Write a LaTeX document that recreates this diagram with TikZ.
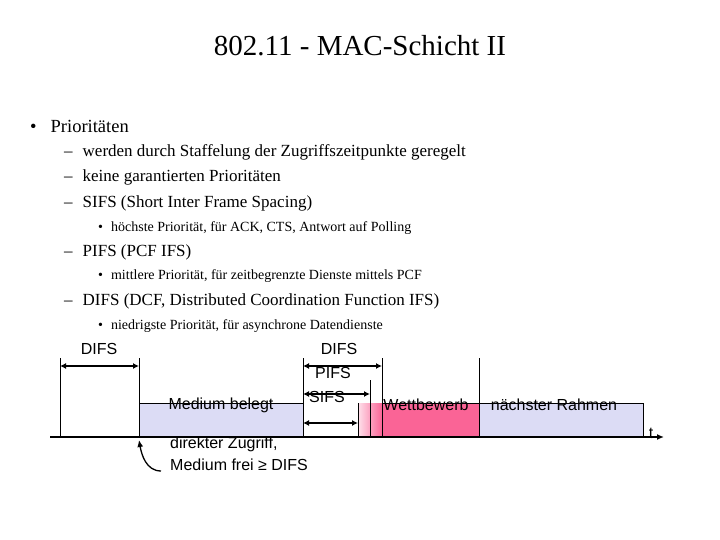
\documentclass[tikz,border=0pt]{standalone}
\usepackage{fontspec}
\setmainfont{Liberation Serif}
\newfontfamily\arial{Liberation Sans}
\usetikzlibrary{arrows.meta}
\definecolor{belegt}{RGB}{220,220,245}
\definecolor{wett}{RGB}{250,100,150}
\begin{document}
\begin{tikzpicture}[x=1pt,y=-1pt]
\tikzstyle{lvl1}=[anchor=west,inner sep=0pt,font=\fontsize{18.5}{22}\selectfont]
\tikzstyle{lvl2}=[anchor=west,inner sep=0pt,font=\fontsize{17}{20}\selectfont]
\tikzstyle{lvl3}=[anchor=west,inner sep=0pt,font=\fontsize{14}{17}\selectfont]
\tikzstyle{lbl}=[inner sep=0pt,font=\arial\fontsize{16}{20}\selectfont]
\tikzstyle{span}=[line width=1.6pt,{Latex[length=6pt,width=6pt]}-{Latex[length=6pt,width=6pt]}]
\useasboundingbox (0,0) rectangle (720,540);
\node[font=\fontsize{29}{34}\selectfont] (title) at (360,46) {802.11 - MAC-Schicht II};
% Aufzaehlung
\node[lvl1] (b1) at (30,126) {\textbullet\hspace{14pt}Prioritäten};
\foreach \name/\ypos/\txt in {
	s1/152/{werden durch Staffelung der Zugriffszeitpunkte geregelt},
	s2/177/{keine garantierten Prioritäten},
	s3/203/{SIFS (Short Inter Frame Spacing)},
	s4/252/{PIFS (PCF IFS)},
	s5/301/{DIFS (DCF, Distributed Coordination Function IFS)}}
	\node[lvl2] (\name) at (64,\ypos) {--\hspace{10pt}\txt};
\foreach \name/\ypos/\txt in {
	t1/228/{höchste Priorität, für ACK, CTS, Antwort auf Polling},
	t2/276/{mittlere Priorität, für zeitbegrenzte Dienste mittels PCF},
	t3/326/{niedrigste Priorität, für asynchrone Datendienste}}
	\node[lvl3] (\name) at (98,\ypos) {\textbullet\hspace{8pt}\txt};
% Zeitachse
\shade[left color=wett!20,right color=wett] (358,403) rectangle (382,437);
\node[draw,fill=belegt,minimum width=164pt,minimum height=34pt,anchor=north west,inner sep=0pt] (belegt) at (139,403) {};
\node[lbl] at (221,405) {Medium belegt};
\node[draw,fill=wett,minimum width=97pt,minimum height=34pt,anchor=north west,inner sep=0pt] (wett) at (382,403) {};
\node[lbl] at (426,405) {Wettbewerb};
\node[draw,fill=belegt,minimum width=164pt,minimum height=34pt,anchor=north west,inner sep=0pt] (naechst) at (479,403) {};
\node[lbl] at (554,405) {nächster Rahmen};
\coordinate (a0) at (50,437);
\coordinate (a1) at (664,437);
\draw[line width=1.6pt,-{Latex[length=7pt,width=6pt]}] (a0) -- (a1);
\node[lbl] (t) at (651,433) {t};
\foreach \name/\xpos/\ytop in {v1/60/358, v2/139/358, v3/303/358, v4/358/403, v5/370/380, v6/382/358, v7/479/358}{
	\coordinate (\name top) at (\xpos,\ytop);
	\coordinate (\name) at (\xpos,437);
	\draw (\name top) -- (\name);
}
\coordinate (d1l) at (60,366); \coordinate (d1r) at (139,366);
\draw[span] (d1l) -- (d1r);
\node[lbl] (d1) at (99,349) {DIFS};
\coordinate (d2l) at (303,366); \coordinate (d2r) at (382,366);
\draw[span] (d2l) -- (d2r);
\node[lbl] (d2) at (339,349) {DIFS};
\coordinate (p1l) at (303,394); \coordinate (p1r) at (370,394);
\draw[span] (p1l) -- (p1r);
\node[lbl] (p1) at (333,373) {PIFS};
\coordinate (s1l) at (303,423); \coordinate (s1r) at (358,423);
\draw[span] (s1l) -- (s1r);
\node[lbl] (s1) at (327,397) {SIFS};
% direkter Zugriff
\node[lbl,anchor=west] (zugriff1) at (170,444) {direkter Zugriff,};
\node[lbl,anchor=west] (zugriff2) at (170,465) {Medium frei ≥ DIFS};
\coordinate (pfeil) at (139,440);
\draw[line width=1.3pt,-{Latex[length=7pt,width=6pt]}] (161,471) to[out=180,in=-80] (pfeil);
\end{tikzpicture}
\end{document}
